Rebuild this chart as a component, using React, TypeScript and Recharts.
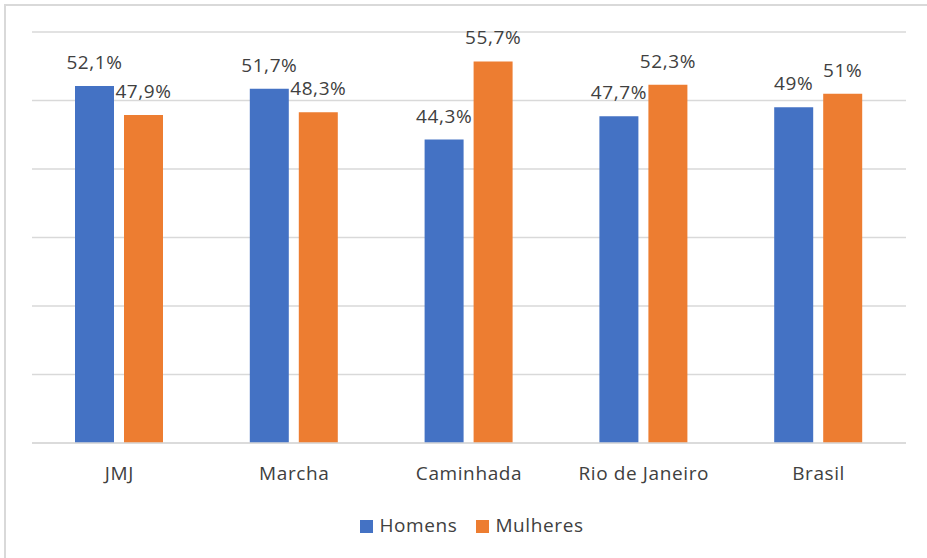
import React from 'react';
import { BarChart, Bar, XAxis, YAxis, CartesianGrid, Legend, LabelList } from 'recharts';

const categories = ['JMJ', 'Marcha', 'Caminhada', 'Rio de Janeiro', 'Brasil'];
const homens = [52.1, 51.7, 44.3, 47.7, 49];
const mulheres = [47.9, 48.3, 55.7, 52.3, 51];
const yTicks = [0, 10, 20, 30, 40, 50, 60];

const data = categories.map((name, i) => ({ name, Homens: homens[i], Mulheres: mulheres[i] }));

const fmt = (v: any) => String(v).replace('.', ',') + '%';

const FONT = '"Open Sans", "Noto Sans", sans-serif';
const TEXT = '#404040';

export default function App() {
  return (
    <div
      style={{
        position: 'absolute',
        left: 0,
        top: 0,
        width: 927,
        height: 558,
        overflow: 'hidden',
        background: '#fff',
        fontFamily: FONT,
        letterSpacing: '0.6px',
      }}
    >
      <div
        style={{
          position: 'absolute',
          left: 4,
          top: 4,
          width: 930,
          height: 560,
          borderLeft: '2px solid #d9d9d9',
          borderTop: '2px solid #d9d9d9',
        }}
      />
      <BarChart
        width={927}
        height={558}
        data={data}
        margin={{ top: 32, right: 21, left: 32, bottom: 85 }}
        barSize={39}
        barGap={10}
        style={{ position: 'absolute', left: 0, top: 0 }}
      >
        <CartesianGrid vertical={false} stroke="#d9d9d9" strokeWidth={1.5} />
        <YAxis hide domain={[0, 60]} ticks={yTicks} />
        <XAxis
          dataKey="name"
          height={30}
          tickLine={false}
          axisLine={{ stroke: '#d9d9d9', strokeWidth: 1.5 }}
          tickMargin={18}
          tick={{ fill: TEXT, fontSize: 19, fontFamily: FONT }}
          interval={0}
        />
        <Legend
          verticalAlign="middle"
          align="center"
          iconType="square"
          iconSize={13}
          wrapperStyle={{ top: 512, left: 9, width: 945, fontSize: 19, fontFamily: FONT }}
          formatter={(value: any) => (
            <span style={{ color: TEXT, marginLeft: 2, marginRight: 9 }}>{value}</span>
          )}
        />
        <Bar dataKey="Homens" fill="#4472C4" isAnimationActive={false}>
          <LabelList dataKey="Homens" position="top" offset={17} formatter={fmt} fill={TEXT} fontSize={19} fontFamily={FONT} />
        </Bar>
        <Bar dataKey="Mulheres" fill="#ED7D31" isAnimationActive={false}>
          <LabelList dataKey="Mulheres" position="top" offset={17} formatter={fmt} fill={TEXT} fontSize={19} fontFamily={FONT} />
        </Bar>
      </BarChart>
    </div>
  );
}
